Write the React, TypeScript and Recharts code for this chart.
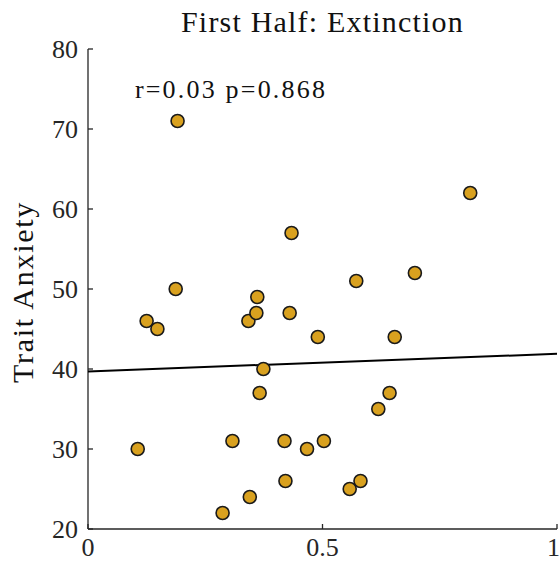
import { ScatterChart, Scatter, XAxis, YAxis, ReferenceDot, Label } from "recharts";

// values
const xVals = [
  0.191, 0.815, 0.434, 0.187, 0.697, 0.572, 0.361, 0.125, 0.148, 0.342,
  0.359, 0.43, 0.49, 0.654, 0.374, 0.366, 0.643, 0.619, 0.106, 0.308,
  0.419, 0.467, 0.503, 0.421, 0.345, 0.287, 0.558, 0.581,
];
const yVals = [
  71, 62, 57, 50, 52, 51, 49, 46, 45, 46,
  47, 47, 44, 44, 40, 37, 37, 35, 30, 31,
  31, 30, 31, 26, 24, 22, 25, 26,
];
const fitX = [0, 1];
const fitY = [39.7, 41.9];
const xTicks = [0, 0.5, 1];
const yTicks = [20, 30, 40, 50, 60, 70, 80];

const points = xVals.map((x, i) => ({ x, y: yVals[i] }));
const fit = fitX.map((x, i) => ({ x, y: fitY[i] }));

const FONT = '"Liberation Serif", "DejaVu Serif", serif';
const INK = "#262626";

const Dot = (props: any) => (
  <circle cx={props.cx} cy={props.cy} r={6.5} fill="#d9a11f" stroke="#1a1a1a" strokeWidth={1.6} />
);

export default function App() {
  return (
    <div style={{ position: "absolute", left: 0, top: 0, width: 560, height: 565, background: "#fff" }}>
      <div
        style={{
          position: "absolute",
          left: 88,
          width: 469,
          top: 4,
          textAlign: "center",
          fontFamily: FONT,
          fontSize: 30,
          letterSpacing: 1.2,
          lineHeight: "36px",
          color: "#111",
        }}
      >
        First Half: Extinction
      </div>
      <ScatterChart width={560} height={565} margin={{ top: 49, right: 3, bottom: 0, left: 0 }}>
        <XAxis
          type="number"
          dataKey="x"
          domain={[0, 1]}
          ticks={xTicks}
          height={36}
          stroke={INK}
          strokeWidth={1.3}
          tickSize={-5}
          tickMargin={14}
          tick={{ fill: INK, fontFamily: FONT, fontSize: 26 }}
        />
        <YAxis
          type="number"
          dataKey="y"
          domain={[20, 80]}
          ticks={yTicks}
          width={88}
          stroke={INK}
          strokeWidth={1.3}
          tickSize={-5}
          tickMargin={15}
          tick={{ fill: INK, fontFamily: FONT, fontSize: 26 }}
        >
          <Label
            content={({ viewBox }: any) => {
              const cx = viewBox.x + 22;
              const cy = viewBox.y + viewBox.height / 2 + 3;
              return (
                <text
                  x={cx}
                  y={cy}
                  transform={`rotate(-90, ${cx}, ${cy})`}
                  textAnchor="middle"
                  dominantBaseline="central"
                  fontFamily={FONT}
                  fontSize={30}
                  letterSpacing={1.7}
                  fill="#111111"
                  stroke="none"
                >
                  Trait Anxiety
                </text>
              );
            }}
          />
        </YAxis>
        <Scatter
          data={fit}
          line={{ stroke: "#000", strokeWidth: 2 }}
          lineType="joint"
          shape={() => null}
          isAnimationActive={false}
        />
        <Scatter data={points} shape={Dot} isAnimationActive={false} />
        <ReferenceDot
          x={0.1}
          y={75}
          r={0}
          stroke="none"
          label={{
            content: ({ viewBox }: any) => (
              <text
                x={viewBox.x}
                y={viewBox.y}
                dominantBaseline="central"
                fontFamily={FONT}
                fontSize={26}
                letterSpacing={2.2}
                fill="#111"
              >
                r=0.03 p=0.868
              </text>
            ),
          }}
        />
      </ScatterChart>
    </div>
  );
}
